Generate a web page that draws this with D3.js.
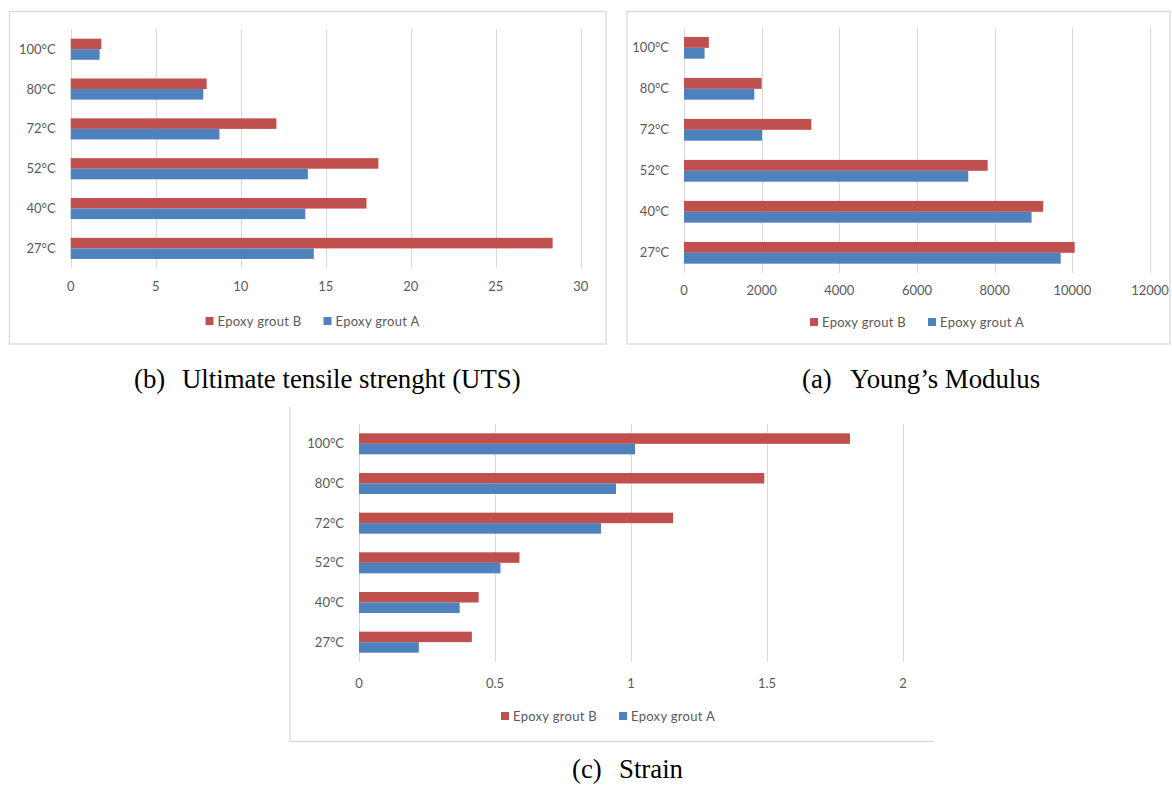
<!DOCTYPE html>
<html>
<head>
<meta charset="utf-8">
<script src="https://cdn.jsdelivr.net/npm/d3@7"></script>
<style>
  html, body { margin: 0; padding: 0; background: #ffffff; }
  svg { display: block; }
  .tick-label, .cat-label, .legend-label { font-family: Lato, "Open Sans", sans-serif; fill: #595959; }
  .caption { font-family: "Liberation Serif", "Times New Roman", serif; fill: #000; }
</style>
</head>
<body>
<svg id="fig" width="1172" height="785"></svg>
<script>
// Temperature categories, listed top to bottom as plotted
const temperatures = ["100°C", "80°C", "72°C", "52°C", "40°C", "27°C"];
const seriesNames = ["Epoxy grout B", "Epoxy grout A"];

// (b) Ultimate tensile strength
const utsGroutB = [1.8, 8.0, 12.1, 18.1, 17.4, 28.35];
const utsGroutA = [1.7, 7.8, 8.75, 13.95, 13.8, 14.3];
const utsTicks = [0, 5, 10, 15, 20, 25, 30];

// (a) Young's modulus
const modulusGroutB = [640, 2000, 3280, 7820, 9250, 10060];
const modulusGroutA = [530, 1810, 2010, 7320, 8950, 9700];
const modulusTicks = [0, 2000, 4000, 6000, 8000, 10000, 12000];

// (c) Strain
const strainGroutB = [1.805, 1.49, 1.155, 0.59, 0.44, 0.415];
const strainGroutA = [1.015, 0.945, 0.89, 0.52, 0.37, 0.22];
const strainTicks = [0, 0.5, 1, 1.5, 2];

const colorB = "#C0504D";
const colorA = "#4F81BD";
const gridColor = "#d9d9d9";

const svg = d3.select("#fig");

function drawPanel(p) {
  const g = svg.append("g");

  // frame
  if (p.frame.full) {
    g.append("rect")
      .attr("x", p.frame.x0).attr("y", p.frame.y0)
      .attr("width", p.frame.x1 - p.frame.x0).attr("height", p.frame.y1 - p.frame.y0)
      .attr("fill", "none").attr("stroke", gridColor).attr("stroke-width", 1.3);
  } else {
    g.append("path")
      .attr("d", `M${p.frame.x0},${p.frame.y0}V${p.frame.y1}H${p.frame.x1}`)
      .attr("fill", "none").attr("stroke", gridColor).attr("stroke-width", 1.3);
  }

  const x = d3.scaleLinear().domain([p.ticks[0], p.ticks[p.ticks.length - 1]]).range([p.left, p.right]);
  const y = d3.scaleBand().domain(temperatures).range([p.top, p.bottom]).padding(0);
  const bw = y.bandwidth();
  const barH = bw * 0.265;

  // vertical gridlines
  g.append("g").selectAll("line").data(p.ticks).join("line")
    .attr("x1", d => Math.round(x(d)) + 0.5).attr("x2", d => Math.round(x(d)) + 0.5)
    .attr("y1", p.top).attr("y2", p.bottom)
    .attr("stroke", gridColor).attr("stroke-width", 1);

  // tick labels along the bottom
  g.append("g").selectAll("text").data(p.ticks).join("text")
    .attr("class", "tick-label")
    .attr("x", d => x(d)).attr("y", p.tickY)
    .attr("text-anchor", "middle").attr("font-size", 13)
    .text(d => p.fmt(d));

  // category labels
  g.append("g").selectAll("text").data(temperatures).join("text")
    .attr("class", "cat-label")
    .attr("x", p.left - 15).attr("y", d => y(d) + bw / 2 + 4.5)
    .attr("text-anchor", "end").attr("font-size", 13)
    .text(d => d);

  // bars: grout B above the band centre, grout A below
  const rows = temperatures.map((t, i) => ({ t, b: p.b[i], a: p.a[i] }));
  g.append("g").selectAll("rect").data(rows).join("rect")
    .attr("x", x(0)).attr("y", d => y(d.t) + bw / 2 - barH)
    .attr("width", d => x(d.b) - x(0)).attr("height", barH)
    .attr("fill", colorB);
  g.append("g").selectAll("rect").data(rows).join("rect")
    .attr("x", x(0)).attr("y", d => y(d.t) + bw / 2)
    .attr("width", d => x(d.a) - x(0)).attr("height", barH)
    .attr("fill", colorA);

  // legend
  const lg = g.append("g");
  let cx = p.legendX;
  [colorB, colorA].forEach((c, i) => {
    lg.append("rect").attr("x", cx).attr("y", p.legendY - 4).attr("width", 8).attr("height", 8).attr("fill", c);
    const t = lg.append("text").attr("class", "legend-label")
      .attr("x", cx + 12).attr("y", p.legendY + 4.5).attr("font-size", 13)
      .attr("letter-spacing", 0.3)
      .text(seriesNames[i]);
    cx += 12 + t.node().getComputedTextLength() + 22;
  });

  // caption
  svg.append("text").attr("class", "caption").attr("font-size", 26.8)
    .attr("x", p.capX).attr("y", p.capY).text(p.capTag);
  svg.append("text").attr("class", "caption").attr("font-size", 26.8)
    .attr("x", p.capTitleX).attr("y", p.capY).text(p.capTitle);
}

const plain = d => String(d);

drawPanel({
  b: utsGroutB, a: utsGroutA, ticks: utsTicks, fmt: plain,
  left: 70.7, right: 580.7, top: 29.3, bottom: 268.3, tickY: 291,
  frame: { full: true, x0: 9.5, y0: 11.5, x1: 606, y1: 344 },
  legendX: 205.5, legendY: 321,
  capTag: "(b)", capTitle: "Ultimate tensile strenght (UTS)", capX: 134, capTitleX: 182, capY: 388
});

drawPanel({
  b: modulusGroutB, a: modulusGroutA, ticks: modulusTicks, fmt: plain,
  left: 684, right: 1150, top: 27.3, bottom: 273.3, tickY: 295,
  frame: { full: true, x0: 627, y0: 11.5, x1: 1170, y1: 344 },
  legendX: 810, legendY: 322,
  capTag: "(a)", capTitle: "Young’s Modulus", capX: 802, capTitleX: 850, capY: 388
});

drawPanel({
  b: strainGroutB, a: strainGroutA, ticks: strainTicks, fmt: plain,
  left: 359, right: 903, top: 424, bottom: 662, tickY: 687.5,
  frame: { full: false, x0: 290, y0: 407, x1: 934, y1: 741.5 },
  legendX: 501, legendY: 716,
  capTag: "(c)", capTitle: "Strain", capX: 572, capTitleX: 619, capY: 778
});
</script>
</body>
</html>
